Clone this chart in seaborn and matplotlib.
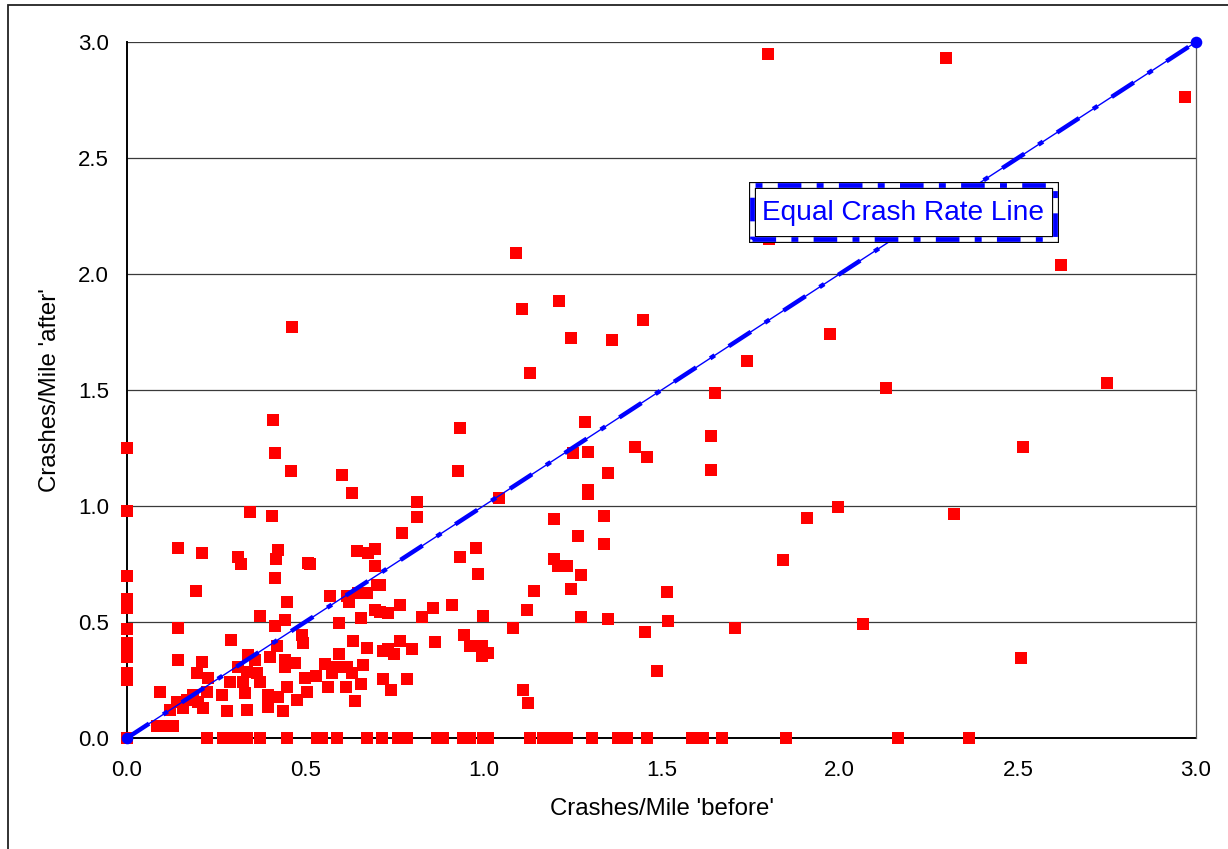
import numpy as np
import pandas as pd
import matplotlib
matplotlib.use("Agg")
import matplotlib.pyplot as plt
from matplotlib.patches import Rectangle
import seaborn as sns

# Crash rates per segment: before vs after treatment (crashes per mile)
before_rate = [
    # segments with no crashes before
    0.0, 0.0, 0.0, 0.0, 0.0, 0.0, 0.0, 0.0, 0.0, 0.0, 0.0, 0.0,
    # segments with no crashes after
    0.224, 0.270, 0.294, 0.312, 0.336, 0.373, 0.448, 0.532, 0.546, 0.589,
    0.673, 0.715, 0.761, 0.785, 0.869, 0.888, 0.944, 0.963, 1.000, 1.014,
    1.131, 1.168, 1.201, 1.234, 1.304, 1.379, 1.402, 1.459, 1.585, 1.599,
    1.617, 1.670, 1.850, 2.164, 2.363,
    # low-rate cluster
    0.083, 0.106, 0.130,
    0.345, 0.406, 0.144, 0.210, 0.312, 0.319, 0.425, 0.418, 0.509, 0.415,
    0.193, 0.448, 0.373, 0.443, 0.415, 0.144, 0.291, 0.420, 0.490, 0.494,
    0.144, 0.210, 0.340, 0.359, 0.401, 0.443, 0.472, 0.443, 0.312, 0.336,
    0.197, 0.228, 0.289, 0.326, 0.364, 0.373, 0.448, 0.500, 0.224, 0.186,
    0.093, 0.266, 0.331, 0.397, 0.425, 0.504, 0.139, 0.167, 0.200, 0.214,
    0.158, 0.121, 0.280, 0.336, 0.397, 0.439, 0.476,
    # middle cluster
    0.631, 0.813, 0.815, 0.771, 0.514, 0.645, 0.677, 0.696, 0.696, 0.935,
    0.979, 0.984, 0.701, 0.710, 0.649, 0.673, 0.570, 0.617, 0.624, 0.696,
    0.710, 0.733, 0.766, 0.860, 0.913, 0.827, 1.000, 0.657, 0.596, 0.635,
    0.673, 0.766, 0.799, 0.864, 0.946, 0.963, 0.995, 1.014, 0.995, 0.718,
    0.733, 0.749, 0.596, 0.556, 0.589, 0.617, 0.663, 0.575, 0.631, 0.530,
    0.718, 0.787, 0.565, 0.614, 0.657, 0.741, 0.640,
    # higher-rate segments
    1.045, 1.295, 1.295, 1.197, 1.339, 1.267, 1.339, 1.197, 1.209, 1.236,
    1.273, 1.142, 1.246, 1.515, 1.122, 1.273, 1.351, 1.519, 1.082, 1.454,
    1.487, 1.110, 1.126,
    0.411, 0.415, 0.459, 0.603, 0.463, 0.935, 0.930, 1.285, 1.253, 1.295,
    1.426, 1.459, 1.349, 1.093, 1.803, 2.621, 1.109, 1.212, 1.447, 1.245,
    1.361, 1.973, 1.131, 1.741, 2.130, 1.651, 1.639, 1.639, 2.514, 1.995,
    1.908, 2.322, 1.842, 1.706, 2.065, 2.508, 1.800, 2.298, 2.970, 2.750,
]

after_rate = [
    1.25, 0.98, 0.70, 0.60, 0.56, 0.47, 0.41, 0.38, 0.35, 0.28, 0.25, 0.00,
    0.0, 0.0, 0.0, 0.0, 0.0, 0.0, 0.0, 0.0, 0.0, 0.0,
    0.0, 0.0, 0.0, 0.0, 0.0, 0.0, 0.0, 0.0, 0.0, 0.0,
    0.0, 0.0, 0.0, 0.0, 0.0, 0.0, 0.0, 0.0, 0.0, 0.0,
    0.0, 0.0, 0.0, 0.0, 0.0,
    0.053, 0.053, 0.053,
    0.974, 0.958, 0.820, 0.796, 0.780, 0.750, 0.810, 0.770, 0.754, 0.688,
    0.635, 0.588, 0.527, 0.509, 0.483, 0.475, 0.422, 0.398, 0.444, 0.410,
    0.336, 0.329, 0.358, 0.336, 0.350, 0.336, 0.325, 0.307, 0.307, 0.286,
    0.279, 0.257, 0.243, 0.243, 0.279, 0.243, 0.221, 0.257, 0.200, 0.185,
    0.200, 0.185, 0.193, 0.185, 0.178, 0.200, 0.156, 0.164, 0.156, 0.128,
    0.128, 0.121, 0.116, 0.121, 0.135, 0.116, 0.164,
    1.057, 1.019, 0.951, 0.882, 0.750, 0.806, 0.796, 0.813, 0.743, 0.782,
    0.820, 0.705, 0.660, 0.660, 0.624, 0.626, 0.612, 0.612, 0.588, 0.552,
    0.545, 0.537, 0.573, 0.559, 0.573, 0.520, 0.527, 0.516, 0.497, 0.419,
    0.389, 0.419, 0.382, 0.412, 0.444, 0.398, 0.398, 0.368, 0.353, 0.376,
    0.384, 0.361, 0.361, 0.318, 0.307, 0.307, 0.315, 0.281, 0.279, 0.267,
    0.253, 0.253, 0.221, 0.221, 0.231, 0.207, 0.161,
    1.036, 1.070, 1.050, 0.943, 0.957, 0.872, 0.835, 0.772, 0.743, 0.743,
    0.704, 0.635, 0.644, 0.628, 0.552, 0.520, 0.512, 0.506, 0.474, 0.458,
    0.290, 0.207, 0.152,
    1.371, 1.227, 1.151, 1.134, 1.772, 1.335, 1.151, 1.363, 1.227, 1.234,
    1.256, 1.210, 1.141, 2.092, 2.150, 2.039, 1.848, 1.885, 1.802, 1.723,
    1.716, 1.740, 1.572, 1.625, 1.510, 1.486, 1.302, 1.155, 1.256, 0.994,
    0.950, 0.964, 0.766, 0.473, 0.490, 0.343, 2.950, 2.930, 2.763, 1.530,
]

# Reference line of equal crash rates
equal_x = [0.0, 3.0]
equal_y = [0.0, 3.0]

x_ticks = [0.0, 0.5, 1.0, 1.5, 2.0, 2.5, 3.0]
y_ticks = [0.0, 0.5, 1.0, 1.5, 2.0, 2.5, 3.0]

df = pd.DataFrame({"before": before_rate, "after": after_rate})

sns.set_theme(style="white")
plt.rcParams["font.family"] = ["Liberation Sans", "DejaVu Sans"]
plt.rcParams["lines.scale_dashes"] = False

fig = plt.figure(figsize=(12.28, 8.49), dpi=100)
ax = fig.add_axes([127 / 1228, 1 - 738 / 849, (1196 - 127) / 1228, (738 - 42) / 849])

# horizontal gridlines
for yv in y_ticks[1:]:
    ax.axhline(yv, color="#3a3a3a", lw=0.9, zorder=1)

sns.scatterplot(data=df, x="before", y="after", marker="s", color="#FF0000",
                s=70, linewidth=0, ax=ax, zorder=3, clip_on=False)

# equal-rate line: thin solid core plus heavy dash-dot overlay
sns.lineplot(x=equal_x, y=equal_y, color="#0000FF", lw=1.0, ax=ax, zorder=4)
sns.lineplot(x=equal_x, y=equal_y, color="#0000FF", lw=3.2,
             linestyle=(0, (19, 12, 4, 12)), dash_capstyle="butt",
             ax=ax, zorder=4)
sns.scatterplot(x=equal_x, y=equal_y, color="#0000FF", s=70, marker="o",
                linewidth=0, ax=ax, zorder=5, clip_on=False)

ax.set_xlim(0, 3)
ax.set_ylim(0, 3)
ax.set_xticks(x_ticks)
ax.set_yticks(y_ticks)
ax.set_xticklabels([f"{v:.1f}" for v in x_ticks])
ax.set_yticklabels([f"{v:.1f}" for v in y_ticks])
ax.tick_params(axis="both", direction="out", length=5, width=1.0,
               color="black", labelsize=16, labelcolor="black")
ax.tick_params(axis="x", pad=11)
ax.tick_params(axis="y", pad=8)

for side in ["left", "bottom"]:
    ax.spines[side].set_color("black")
    ax.spines[side].set_linewidth(1.4)
    ax.spines[side].set_zorder(2)
ax.spines["top"].set_visible(False)
ax.spines["right"].set_color("#5a5a5a")
ax.spines["right"].set_linewidth(0.9)

ax.set_xlabel("Crashes/Mile 'before'", fontsize=17.3, color="black")
ax.set_ylabel("Crashes/Mile 'after'", fontsize=17.3, color="black")
ax.xaxis.set_label_coords(0.5, -0.086)
ax.yaxis.set_label_coords(-0.062, 0.5)

# Label box for the reference line
bx0, by0, bw, bh = 1.754, 2.151, 0.850, 0.233
ax.add_patch(Rectangle((bx0, by0), bw, bh, facecolor="white", edgecolor="black",
                       lw=5.0, zorder=6))
ax.add_patch(Rectangle((bx0, by0), bw, bh, facecolor="none", edgecolor="white",
                       lw=3.4, zorder=6))
ax.add_patch(Rectangle((bx0, by0), bw, bh, facecolor="none", edgecolor="#0000FF",
                       lw=3.4, linestyle=(0, (17, 11, 5, 11)), zorder=6))
ax.text(bx0 + bw / 2, by0 + bh / 2 - 0.005, "Equal Crash Rate Line",
        ha="center", va="center", fontsize=20.2, color="#0000FF", zorder=7)

# outer chart frame
fig.patches.append(Rectangle((8 / 1228, -0.5), 2.0, 1.5 - 5 / 849,
                             transform=fig.transFigure, fill=False,
                             edgecolor="#222222", lw=1.3))

fig.savefig("out.png", dpi=100)
